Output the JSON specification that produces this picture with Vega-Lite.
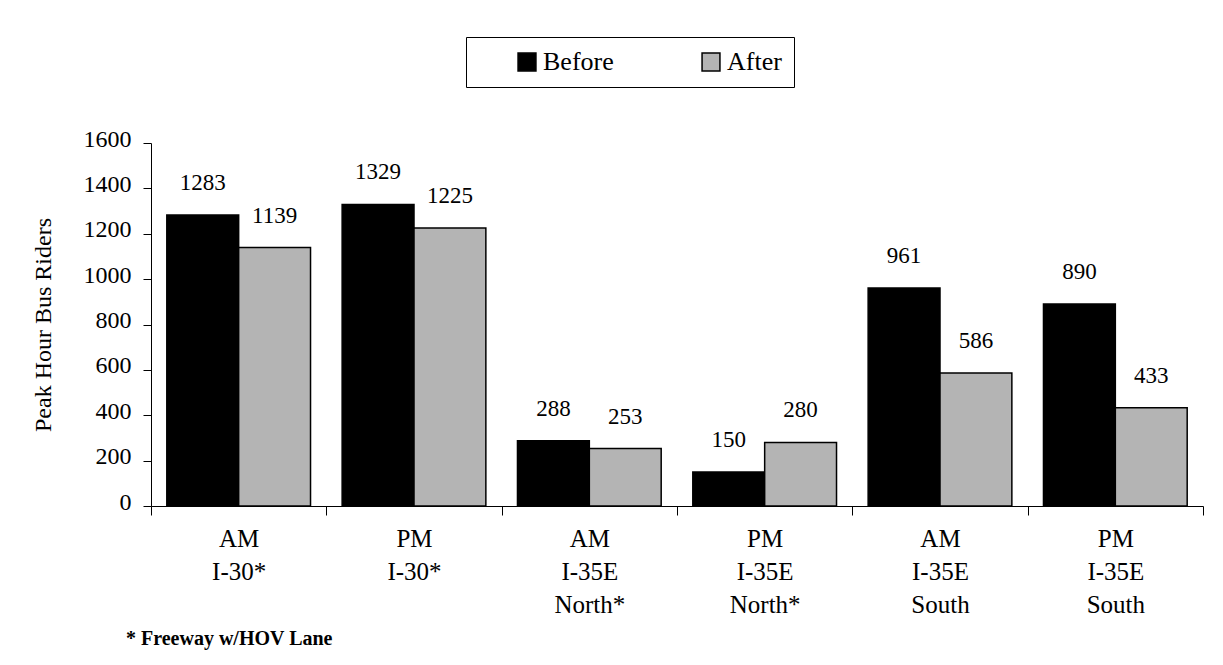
{
  "$schema": "https://vega.github.io/schema/vega-lite/v6.json",
  "width": 1052,
  "height": 363,
  "autosize": {"type": "none"},
  "padding": {"left": 151, "top": 143, "right": 20, "bottom": 159},
  "background": "white",
  "config": {
    "font": "Liberation Serif",
    "view": {"stroke": null}
  },
  "title": {
    "text": "* Freeway w/HOV Lane",
    "orient": "bottom",
    "anchor": "start",
    "frame": "group",
    "dx": -25,
    "offset": 12,
    "fontSize": 20,
    "fontWeight": "bold",
    "font": "Liberation Serif",
    "color": "black"
  },
  "data": {
    "values": [
      {"route": "AM|I-30*", "period": "Before", "riders": 1283},
      {"route": "AM|I-30*", "period": "After", "riders": 1139},
      {"route": "PM|I-30*", "period": "Before", "riders": 1329},
      {"route": "PM|I-30*", "period": "After", "riders": 1225},
      {"route": "AM|I-35E|North*", "period": "Before", "riders": 288},
      {"route": "AM|I-35E|North*", "period": "After", "riders": 253},
      {"route": "PM|I-35E|North*", "period": "Before", "riders": 150},
      {"route": "PM|I-35E|North*", "period": "After", "riders": 280},
      {"route": "AM|I-35E|South", "period": "Before", "riders": 961},
      {"route": "AM|I-35E|South", "period": "After", "riders": 586},
      {"route": "PM|I-35E|South", "period": "Before", "riders": 890},
      {"route": "PM|I-35E|South", "period": "After", "riders": 433}
    ]
  },
  "encoding": {
    "x": {
      "field": "route",
      "type": "nominal",
      "sort": null,
      "scale": {"paddingInner": 0, "paddingOuter": 0},
      "axis": {
        "title": null,
        "labelAngle": 0,
        "labelExpr": "split(datum.label, '|')",
        "labelFont": "Liberation Serif",
        "labelFontSize": 25,
        "labelColor": "black",
        "labelLineHeight": 33,
        "labelPadding": 11,
        "labelBaseline": "top",
        "tickBand": "extent",
        "tickSize": 9,
        "tickColor": "black",
        "domainColor": "black",
        "grid": false
      }
    },
    "xOffset": {
      "field": "period",
      "type": "nominal",
      "sort": ["Before", "After"],
      "scale": {"paddingInner": 0, "paddingOuter": 0.22}
    },
    "y": {
      "field": "riders",
      "type": "quantitative",
      "scale": {"domain": [0, 1600]},
      "axis": {
        "title": "Peak Hour Bus Riders",
        "titleFont": "Liberation Serif",
        "titleFontSize": 24,
        "titleFontWeight": "normal",
        "titleColor": "black",
        "titlePadding": 28,
        "values": [0, 200, 400, 600, 800, 1000, 1200, 1400, 1600],
        "format": "d",
        "labelFont": "Liberation Serif",
        "labelFontSize": 24,
        "labelColor": "black",
        "labelPadding": 12,
        "labelOffset": -4,
        "tickSize": 8,
        "tickColor": "black",
        "domainColor": "black",
        "grid": false
      }
    }
  },
  "layer": [
    {
      "mark": {"type": "bar", "stroke": "black", "strokeWidth": 1.5},
      "encoding": {
        "color": {
          "field": "period",
          "type": "nominal",
          "sort": ["Before", "After"],
          "scale": {"domain": ["Before", "After"], "range": ["#000000", "#b4b4b4"]},
          "legend": {
            "orient": "none",
            "legendX": 315,
            "legendY": -106,
            "direction": "horizontal",
            "title": null,
            "strokeColor": "black",
            "padding": 12,
            "symbolType": "square",
            "symbolSize": 320,
            "symbolOffset": 36,
            "symbolStrokeColor": "black",
            "symbolStrokeWidth": 1.5,
            "labelFont": "Liberation Serif",
            "labelFontSize": 26,
            "labelColor": "black",
            "labelOffset": 3,
            "columnPadding": 48
          }
        }
      }
    },
    {
      "mark": {"type": "text", "dy": -32, "fontSize": 23, "font": "Liberation Serif", "color": "black"},
      "encoding": {"text": {"field": "riders", "type": "quantitative"}}
    }
  ]
}
